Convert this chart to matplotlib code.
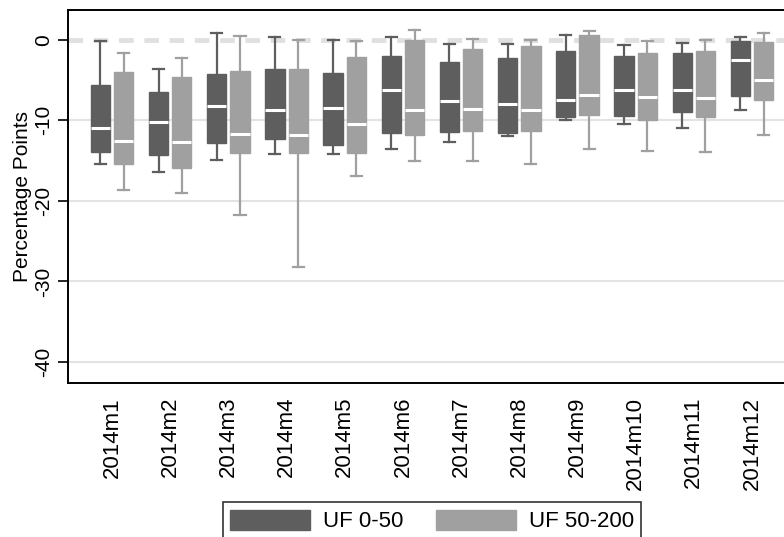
import matplotlib
matplotlib.use("Agg")
import matplotlib.pyplot as plt
from matplotlib.patches import Patch

plt.rcParams['font.family'] = ['Liberation Sans', 'DejaVu Sans']

months = ['2014m1', '2014m2', '2014m3', '2014m4', '2014m5', '2014m6',
          '2014m7', '2014m8', '2014m9', '2014m10', '2014m11', '2014m12']

# UF 0-50 (dark boxes)
dark_whi = [-0.2, -3.6, 0.9, 0.4, 0.0, 0.4, -0.5, -0.5, 0.6, -0.6, -0.4, 0.4]
dark_q3 = [-5.6, -6.5, -4.2, -3.6, -4.1, -2.0, -2.7, -2.3, -1.4, -2.0, -1.65, -0.2]
dark_med = [-10.9, -10.2, -8.2, -8.7, -8.5, -6.2, -7.6, -8.0, -7.5, -6.2, -6.2, -2.5]
dark_q1 = [-13.9, -14.3, -12.8, -12.3, -13.0, -11.6, -11.4, -11.6, -9.6, -9.5, -8.9, -7.0]
dark_wlo = [-15.4, -16.4, -14.9, -14.2, -14.2, -13.5, -12.7, -12.0, -10.0, -10.4, -11.0, -8.7]

# UF 50-200 (light boxes)
light_whi = [-1.65, -2.2, 0.5, 0.0, -0.1, 1.2, 0.1, 0.0, 1.1, -0.1, 0.0, 0.8]
light_q3 = [-4.0, -4.6, -3.9, -3.6, -2.15, 0.0, -1.1, -0.8, 0.6, -1.65, -1.4, -0.3]
light_med = [-12.5, -12.7, -11.7, -11.8, -10.5, -8.7, -8.6, -8.7, -6.8, -7.1, -7.2, -5.05]
light_q1 = [-15.4, -15.9, -14.1, -14.1, -14.0, -11.8, -11.3, -11.3, -9.3, -9.9, -9.6, -7.45]
light_wlo = [-18.6, -19.0, -21.8, -28.2, -16.9, -15.1, -15.1, -15.4, -13.5, -13.8, -13.95, -11.8]

dark_col = '#5e5e5e'
light_col = '#a0a0a0'


def make_stats(whi, q3, med, q1, wlo):
    return [dict(whishi=a, q3=b, med=c, q1=d, whislo=e, fliers=[])
            for a, b, c, d, e in zip(whi, q3, med, q1, wlo)]


fig = plt.figure(figsize=(7.84, 5.37), dpi=100)
ax = fig.add_axes([68 / 784, 1 - 383 / 537, 728 / 784, 373 / 537])

# grid and zero line
for y in [-10, -20, -30, -40]:
    ax.axhline(y, color='#e3e3e3', lw=1.5, zorder=0)
ax.axhline(0, color='#e0e0e0', lw=3.5, ls=(0, (3, 2.2)), zorder=0)

pos = list(range(1, len(months) + 1))
for stats, off, col in [(make_stats(dark_whi, dark_q3, dark_med, dark_q1, dark_wlo), -0.2, dark_col),
                        (make_stats(light_whi, light_q3, light_med, light_q1, light_wlo), 0.2, light_col)]:
    ax.bxp(stats, positions=[p + off for p in pos], widths=0.33, capwidths=0.19,
           patch_artist=True, showfliers=False, manage_ticks=False,
           boxprops=dict(facecolor=col, edgecolor=col, lw=1),
           whiskerprops=dict(color=col, lw=1.6),
           capprops=dict(color=col, lw=1.6),
           medianprops=dict(color='white', lw=2.2, solid_capstyle='butt'))

ax.set_xlim(0.244, 12.756)
ax.set_ylim(-42.6, 3.7)
ax.set_xticks(pos)
ax.set_xticklabels(months, rotation=90, fontsize=16)
ax.tick_params(axis='x', length=0, pad=10)
ax.set_yticks([0, -10, -20, -30, -40])
ax.set_yticklabels(['0', '-10', '-20', '-30', '-40'], rotation=90, va='center', fontsize=15)
ax.tick_params(axis='y', length=7, width=1.2, pad=4)
ax.set_ylabel('Percentage Points', fontsize=15, labelpad=1)
for s in ['left', 'bottom', 'top']:
    ax.spines[s].set_linewidth(1.4)
ax.spines['right'].set_visible(False)

handles = [Patch(facecolor=dark_col, edgecolor=dark_col, label='UF 0-50'),
           Patch(facecolor=light_col, edgecolor=light_col, label='UF 50-200')]
leg = fig.legend(handles=handles, loc='upper center', bbox_to_anchor=(432 / 784, 1 - 502 / 537),
                 ncol=2, fontsize=16, frameon=True, fancybox=False, handlelength=3.6,
                 handleheight=1.0, handletextpad=0.55, columnspacing=1.5, borderpad=0.35,
                 borderaxespad=0)
leg.get_frame().set_edgecolor('black')
leg.get_frame().set_linewidth(1.2)

fig.savefig('out.png', dpi=100)
